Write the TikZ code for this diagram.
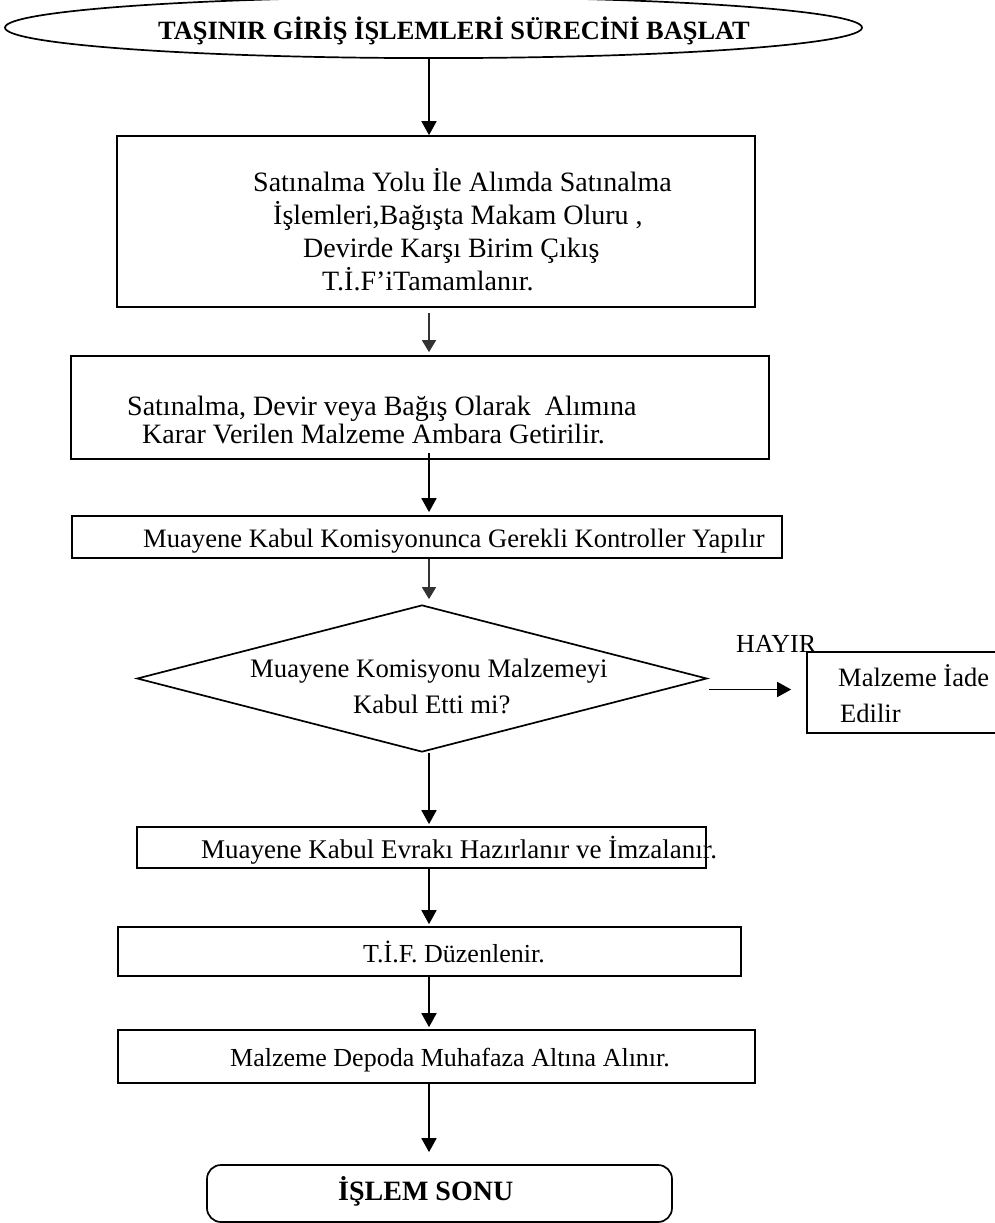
\documentclass[tikz,border=0pt]{standalone}
\usepackage{fontspec}
\setmainfont{Liberation Serif}
\usetikzlibrary{shapes.geometric,arrows.meta,calc}
\begin{document}
\begin{tikzpicture}[x=1pt,y=-1pt,
  frame/.style={draw, line width=1.7pt, inner sep=0pt},
  stepbox/.style={frame, rectangle},
  txt/.style={anchor=base west, inner sep=0pt, font=\fontsize{#1}{#1}\selectfont},
  btxt/.style={anchor=base west, inner sep=0pt, font=\bfseries\fontsize{#1}{#1}\selectfont},
  flow/.style={line width=1.7pt, -{Triangle[length=14pt,width=15pt]}},
  flowsoft/.style={line width=1.4pt, black!80, -{Triangle[length=12pt,width=14pt]}}]
\useasboundingbox (0,0) rectangle (994,1223);

% column on which the vertical connectors run
\coordinate (ax) at (429,0);

% start terminal
\node[frame, ellipse, minimum width=857pt, minimum height=61pt] (start) at (433.5,27.6) {};
\node[btxt=26.4] (title) at (158,40) {TAŞINIR GİRİŞ İŞLEMLERİ SÜRECİNİ BAŞLAT};

% process boxes
\node[stepbox, minimum width=638pt, minimum height=171pt] (b1) at (436,221.5) {};
\node[txt=28] (b1a) at (253,191) {Satınalma Yolu İle Alımda Satınalma};
\node[txt=28] (b1b) at (273,224) {İşlemleri,Bağışta Makam Oluru ,};
\node[txt=28] (b1c) at (303,257) {Devirde Karşı Birim Çıkış};
\node[txt=28] (b1d) at (322,290) {T.İ.F’iTamamlanır.};

\node[stepbox, minimum width=698pt, minimum height=103pt] (b2) at (420,407.5) {};
\node[txt=28] (b2a) at (127,415) {Satınalma, Devir veya Bağış Olarak\ \ Alımına};
\node[txt=28] (b2b) at (142,443) {Karar Verilen Malzeme Ambara Getirilir.};

\node[stepbox, minimum width=710pt, minimum height=42pt] (b3) at (427,537) {};
\node[txt=26.6] (b3a) at (143,547) {Muayene Kabul Komisyonunca Gerekli Kontroller Yapılır};

% decision
\node[frame, diamond, minimum width=570pt, minimum height=147pt] (dec) at (422,678.5) {};
\node[txt=26.7] (deca) at (250,677) {Muayene Komisyonu Malzemeyi};
\node[txt=26.7] (decb) at (353,713) {Kabul Etti mi?};

\node[txt=26] (no) at (736,652) {HAYIR};
\node[stepbox, minimum width=203pt, minimum height=81pt] (ret) at (908.5,692.5) {};
\node[txt=26.5] (reta) at (838,686) {Malzeme İade};
\node[txt=26.5] (retb) at (840,722) {Edilir};

\node[stepbox, minimum width=569pt, minimum height=41pt] (b4) at (421.5,847.5) {};
\node[txt=27] (b4a) at (201,858) {Muayene Kabul Evrakı Hazırlanır ve İmzalanır.};

\node[stepbox, minimum width=623pt, minimum height=49pt] (b5) at (429.5,951.5) {};
\node[txt=26] (b5a) at (363,962) {T.İ.F. Düzenlenir.};

\node[stepbox, minimum width=637pt, minimum height=53pt] (b6) at (436.5,1056.5) {};
\node[txt=26] (b6a) at (230,1066) {Malzeme Depoda Muhafaza Altına Alınır.};

% end terminal
\node[frame, rounded corners=14pt, minimum width=465pt, minimum height=57pt] (stop) at (439.5,1193.5) {};
\node[btxt=28] (stopa) at (338,1200) {İŞLEM SONU};

% connectors
\draw[flow] (start.south -| ax) -- (b1.north -| ax);
\draw[flowsoft] ($(b1.south -| ax)+(0,5)$) -- ($(b2.north -| ax)+(0,-3)$);
\draw[flow] ($(b2.south -| ax)+(0,-7)$) -- ($(b3.north -| ax)+(0,-3)$);
\draw[flowsoft] (b3.south -| ax) -- ($(dec.north -| ax)+(0,-5)$);
\draw[flow] (dec.south -| ax) -- ($(b4.north -| ax)+(0,-2)$);
\draw[flow] (b4.south -| ax) -- ($(b5.north -| ax)+(0,-2)$);
\draw[flow] (b5.south -| ax) -- ($(b6.north -| ax)+(0,-2)$);
\draw[flow] (b6.south -| ax) -- ($(stop.north -| ax)+(0,-12)$);
\draw[flow] ($(dec.east)+(1,11)$) -- ($(ret.west |- dec.east)+(-15,11)$);
\end{tikzpicture}
\end{document}
